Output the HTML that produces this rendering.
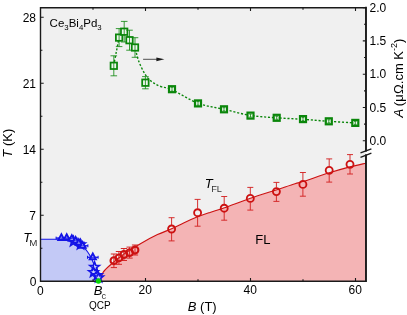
<!DOCTYPE html>
<html><head><meta charset="utf-8"><style>
html,body{margin:0;padding:0;background:#fff;}
svg{display:block}
text{font-family:"Liberation Sans",sans-serif;fill:#000}
</style></head><body>
<svg width="407" height="315" viewBox="0 0 407 315" style="opacity:0.999">
<rect width="407" height="315" fill="#ffffff"/>
<rect x="40.5" y="7.7" width="325.4" height="273.5" fill="#f0f0f0"/>
<path d="M100.00,281.20 C100.52,279.73 101.38,275.10 103.10,272.40 C104.82,269.70 106.65,268.18 110.30,265.00 C113.95,261.82 120.05,256.82 125.00,253.30 C129.95,249.78 134.58,247.02 140.00,243.90 C145.42,240.78 152.23,237.12 157.50,234.60 C162.77,232.08 167.25,230.75 171.60,228.80 C175.95,226.85 179.27,224.90 183.60,222.90 C187.93,220.90 193.20,218.55 197.60,216.80 C202.00,215.05 205.52,213.90 210.00,212.40 C214.48,210.90 217.77,210.15 224.50,207.80 C231.23,205.45 241.78,201.28 250.40,198.30 C259.02,195.32 268.77,192.33 276.20,189.90 C283.63,187.47 290.57,185.08 295.00,183.70 C299.43,182.32 297.08,183.42 302.80,181.60 C308.52,179.78 321.45,175.25 329.30,172.80 C337.15,170.35 343.80,168.50 349.90,166.90 C356.00,165.30 363.23,163.82 365.90,163.20 L365.9,281.2 L100,281.2 Z" fill="#f4b4b5"/>
<path d="M40.50,239.30 C43.42,239.30 54.08,239.28 58.00,239.30 C61.92,239.32 62.17,239.30 64.00,239.40 C65.83,239.50 67.33,239.60 69.00,239.90 C70.67,240.20 72.33,240.62 74.00,241.20 C75.67,241.78 77.42,242.47 79.00,243.40 C80.58,244.33 82.08,245.40 83.50,246.80 C84.92,248.20 86.25,250.02 87.50,251.80 C88.75,253.58 89.92,255.38 91.00,257.50 C92.08,259.62 93.08,262.17 94.00,264.50 C94.92,266.83 95.75,269.33 96.50,271.50 C97.25,273.67 97.92,275.88 98.50,277.50 C99.08,279.12 99.75,280.58 100.00,281.20 L40.5,281.2 Z" fill="#c3c9f6"/>
<path d="M40.50,239.30 C43.42,239.30 54.08,239.28 58.00,239.30 C61.92,239.32 62.17,239.30 64.00,239.40 C65.83,239.50 67.33,239.60 69.00,239.90 C70.67,240.20 72.33,240.62 74.00,241.20 C75.67,241.78 77.42,242.47 79.00,243.40 C80.58,244.33 82.08,245.40 83.50,246.80 C84.92,248.20 86.25,250.02 87.50,251.80 C88.75,253.58 89.92,255.38 91.00,257.50 C92.08,259.62 93.08,262.17 94.00,264.50 C94.92,266.83 95.75,269.33 96.50,271.50 C97.25,273.67 97.92,275.88 98.50,277.50 C99.08,279.12 99.75,280.58 100.00,281.20" fill="none" stroke="#1414e6" stroke-width="1.1"/>
<path d="M100.00,281.20 C100.52,279.73 101.38,275.10 103.10,272.40 C104.82,269.70 106.65,268.18 110.30,265.00 C113.95,261.82 120.05,256.82 125.00,253.30 C129.95,249.78 134.58,247.02 140.00,243.90 C145.42,240.78 152.23,237.12 157.50,234.60 C162.77,232.08 167.25,230.75 171.60,228.80 C175.95,226.85 179.27,224.90 183.60,222.90 C187.93,220.90 193.20,218.55 197.60,216.80 C202.00,215.05 205.52,213.90 210.00,212.40 C214.48,210.90 217.77,210.15 224.50,207.80 C231.23,205.45 241.78,201.28 250.40,198.30 C259.02,195.32 268.77,192.33 276.20,189.90 C283.63,187.47 290.57,185.08 295.00,183.70 C299.43,182.32 297.08,183.42 302.80,181.60 C308.52,179.78 321.45,175.25 329.30,172.80 C337.15,170.35 343.80,168.50 349.90,166.90 C356.00,165.30 363.23,163.82 365.90,163.20" fill="none" stroke="#cc1111" stroke-width="1.1"/>
<path d="M113.60,65.60 C114.07,63.25 115.47,56.15 116.40,51.50 C117.33,46.85 118.33,40.85 119.20,37.70 C120.07,34.55 120.75,33.68 121.60,32.60 C122.45,31.52 123.40,30.87 124.30,31.20 C125.20,31.53 126.12,33.03 127.00,34.60 C127.88,36.17 128.30,38.43 129.60,40.60 C130.90,42.77 133.50,44.85 134.80,47.60 C136.10,50.35 136.50,54.23 137.40,57.10 C138.30,59.97 139.10,62.25 140.20,64.80 C141.30,67.35 142.72,70.18 144.00,72.40 C145.28,74.62 146.30,76.35 147.90,78.10 C149.50,79.85 151.38,81.47 153.60,82.90 C155.82,84.33 158.17,85.58 161.20,86.70 C164.23,87.82 165.67,86.85 171.80,89.60 C177.93,92.35 189.30,99.92 198.00,103.20 C206.70,106.48 215.25,107.27 224.00,109.30 C232.75,111.33 241.72,113.98 250.50,115.40 C259.28,116.82 267.95,117.15 276.70,117.80 C285.45,118.45 294.32,118.72 303.00,119.30 C311.68,119.88 320.08,120.70 328.80,121.30 C337.52,121.90 350.88,122.63 355.30,122.90" fill="none" stroke="#0a860a" stroke-width="1.4" stroke-dasharray="2.1,1.8"/>
<rect x="110.58" y="62.57" width="6.45" height="6.45" fill="#eef6ee" stroke="#0a860a" stroke-width="1.75"/>
<path d="M113.80,55.80 V75.80 M110.50,55.80 h6.6 M110.50,75.80 h6.6" stroke="#0a860a" stroke-width="1" fill="none" opacity="0.8"/>
<rect x="115.88" y="34.38" width="6.45" height="6.45" fill="#eef6ee" stroke="#0a860a" stroke-width="1.75"/>
<path d="M119.10,28.60 V46.60 M115.80,28.60 h6.6 M115.80,46.60 h6.6" stroke="#0a860a" stroke-width="1" fill="none" opacity="0.8"/>
<rect x="120.98" y="28.48" width="6.45" height="6.45" fill="#eef6ee" stroke="#0a860a" stroke-width="1.75"/>
<path d="M124.20,21.40 V42.00 M120.90,21.40 h6.6 M120.90,42.00 h6.6" stroke="#0a860a" stroke-width="1" fill="none" opacity="0.8"/>
<rect x="126.28" y="36.98" width="6.45" height="6.45" fill="#eef6ee" stroke="#0a860a" stroke-width="1.75"/>
<path d="M129.50,30.20 V50.20 M126.20,30.20 h6.6 M126.20,50.20 h6.6" stroke="#0a860a" stroke-width="1" fill="none" opacity="0.8"/>
<rect x="131.78" y="44.27" width="6.45" height="6.45" fill="#eef6ee" stroke="#0a860a" stroke-width="1.75"/>
<path d="M135.00,37.70 V57.30 M131.70,37.70 h6.6 M131.70,57.30 h6.6" stroke="#0a860a" stroke-width="1" fill="none" opacity="0.8"/>
<rect x="142.18" y="79.48" width="6.45" height="6.45" fill="#eef6ee" stroke="#0a860a" stroke-width="1.75"/>
<path d="M145.40,76.60 V88.80 M142.10,76.60 h6.6 M142.10,88.80 h6.6" stroke="#0a860a" stroke-width="1" fill="none" opacity="0.8"/>
<rect x="169.00" y="86.20" width="6.00" height="6.00" fill="#eef6ee" stroke="#0a860a" stroke-width="2.2"/>
<path d="M172.00,87.20 V91.20 M170.70,87.20 h2.6 M170.70,91.20 h2.6" stroke="#0a860a" stroke-width="1" fill="none" opacity="0.8"/>
<rect x="195.00" y="100.40" width="6.00" height="6.00" fill="#eef6ee" stroke="#0a860a" stroke-width="2.2"/>
<path d="M198.00,101.60 V105.20 M196.70,101.60 h2.6 M196.70,105.20 h2.6" stroke="#0a860a" stroke-width="1" fill="none" opacity="0.8"/>
<rect x="221.00" y="106.30" width="6.00" height="6.00" fill="#eef6ee" stroke="#0a860a" stroke-width="2.2"/>
<path d="M224.00,107.70 V110.90 M222.70,107.70 h2.6 M222.70,110.90 h2.6" stroke="#0a860a" stroke-width="1" fill="none" opacity="0.8"/>
<rect x="247.50" y="112.60" width="6.00" height="6.00" fill="#eef6ee" stroke="#0a860a" stroke-width="2.2"/>
<path d="M250.50,114.10 V117.10 M249.20,114.10 h2.6 M249.20,117.10 h2.6" stroke="#0a860a" stroke-width="1" fill="none" opacity="0.8"/>
<rect x="273.70" y="114.80" width="6.00" height="6.00" fill="#eef6ee" stroke="#0a860a" stroke-width="2.2"/>
<path d="M276.70,116.30 V119.30 M275.40,116.30 h2.6 M275.40,119.30 h2.6" stroke="#0a860a" stroke-width="1" fill="none" opacity="0.8"/>
<rect x="300.00" y="116.10" width="6.00" height="6.00" fill="#eef6ee" stroke="#0a860a" stroke-width="2.2"/>
<path d="M303.00,117.60 V120.60 M301.70,117.60 h2.6 M301.70,120.60 h2.6" stroke="#0a860a" stroke-width="1" fill="none" opacity="0.8"/>
<rect x="325.80" y="118.30" width="6.00" height="6.00" fill="#eef6ee" stroke="#0a860a" stroke-width="2.2"/>
<path d="M328.80,119.80 V122.80 M327.50,119.80 h2.6 M327.50,122.80 h2.6" stroke="#0a860a" stroke-width="1" fill="none" opacity="0.8"/>
<rect x="352.30" y="119.90" width="6.00" height="6.00" fill="#eef6ee" stroke="#0a860a" stroke-width="2.2"/>
<path d="M355.30,121.40 V124.40 M354.00,121.40 h2.6 M354.00,124.40 h2.6" stroke="#0a860a" stroke-width="1" fill="none" opacity="0.8"/>
<path d="M143.1,59.3 H158" stroke="#1a1a1a" stroke-width="0.75"/><path d="M164.4,59.3 L156.4,57.4 L156.4,61.2 Z" fill="#1a1a1a"/>
<path d="M113.90,254.00 V267.60 M110.80,254.00 h6.2 M110.80,267.60 h6.2" stroke="#d42626" stroke-width="1.0" fill="none"/>
<path d="M118.90,251.50 V264.30 M115.80,251.50 h6.2 M115.80,264.30 h6.2" stroke="#d42626" stroke-width="1.0" fill="none"/>
<path d="M123.90,248.50 V260.50 M120.80,248.50 h6.2 M120.80,260.50 h6.2" stroke="#d42626" stroke-width="1.0" fill="none"/>
<path d="M129.60,247.10 V258.10 M126.50,247.10 h6.2 M126.50,258.10 h6.2" stroke="#d42626" stroke-width="1.0" fill="none"/>
<path d="M135.00,245.00 V255.00 M131.90,245.00 h6.2 M131.90,255.00 h6.2" stroke="#d42626" stroke-width="1.0" fill="none"/>
<path d="M171.60,217.70 V225.00 M171.60,233.00 V240.90 M168.60,217.70 h6.0 M168.60,240.90 h6.0" stroke="#d42626" stroke-width="0.95" fill="none"/>
<path d="M197.60,199.40 V208.70 M197.60,216.70 V226.20 M194.60,199.40 h6.0 M194.60,226.20 h6.0" stroke="#d42626" stroke-width="0.95" fill="none"/>
<path d="M224.20,196.50 V204.20 M224.20,212.20 V220.20 M221.20,196.50 h6.0 M221.20,220.20 h6.0" stroke="#d42626" stroke-width="0.95" fill="none"/>
<path d="M250.30,187.40 V194.40 M250.30,202.40 V210.10 M247.30,187.40 h6.0 M247.30,210.10 h6.0" stroke="#d42626" stroke-width="0.95" fill="none"/>
<path d="M276.40,182.40 V187.60 M276.40,195.60 V201.40 M273.40,182.40 h6.0 M273.40,201.40 h6.0" stroke="#d42626" stroke-width="0.95" fill="none"/>
<path d="M302.90,172.50 V180.40 M302.90,188.40 V196.20 M299.90,172.50 h6.0 M299.90,196.20 h6.0" stroke="#d42626" stroke-width="0.95" fill="none"/>
<path d="M329.20,158.90 V166.30 M329.20,174.30 V182.10 M326.20,158.90 h6.0 M326.20,182.10 h6.0" stroke="#d42626" stroke-width="0.95" fill="none"/>
<path d="M350.00,154.60 V160.30 M350.00,168.30 V174.00 M347.00,154.60 h6.0 M347.00,174.00 h6.0" stroke="#d42626" stroke-width="0.95" fill="none"/>
<circle cx="113.90" cy="260.70" r="3.40" fill="none" stroke="#cc1111" stroke-width="2.05"/>
<circle cx="118.90" cy="257.90" r="3.40" fill="none" stroke="#cc1111" stroke-width="2.05"/>
<circle cx="123.90" cy="254.50" r="3.40" fill="none" stroke="#cc1111" stroke-width="2.05"/>
<circle cx="129.60" cy="252.60" r="3.40" fill="none" stroke="#cc1111" stroke-width="2.05"/>
<circle cx="135.00" cy="250.00" r="3.40" fill="none" stroke="#cc1111" stroke-width="2.05"/>
<circle cx="171.60" cy="229.00" r="3.50" fill="none" stroke="#cc1111" stroke-width="1.85"/>
<circle cx="197.60" cy="212.70" r="3.50" fill="none" stroke="#cc1111" stroke-width="1.85"/>
<circle cx="224.20" cy="208.20" r="3.50" fill="none" stroke="#cc1111" stroke-width="1.85"/>
<circle cx="250.30" cy="198.40" r="3.50" fill="none" stroke="#cc1111" stroke-width="1.85"/>
<circle cx="276.40" cy="191.60" r="3.50" fill="none" stroke="#cc1111" stroke-width="1.85"/>
<circle cx="302.90" cy="184.40" r="3.50" fill="none" stroke="#cc1111" stroke-width="1.85"/>
<circle cx="329.20" cy="170.30" r="3.50" fill="none" stroke="#cc1111" stroke-width="1.85"/>
<circle cx="350.00" cy="164.30" r="3.50" fill="none" stroke="#cc1111" stroke-width="1.85"/>
<path d="M56.10,238.10 h10.6 M56.10,236.60 v3 M66.70,236.60 v3" stroke="#1414e6" stroke-width="1"/>
<path d="M61.40,238.10 h10.6 M61.40,236.60 v3 M72.00,236.60 v3" stroke="#1414e6" stroke-width="1"/>
<path d="M66.50,238.90 h10.6 M66.50,237.40 v3 M77.10,237.40 v3" stroke="#1414e6" stroke-width="1"/>
<path d="M70.30,240.80 h10.6 M70.30,239.30 v3 M80.90,239.30 v3" stroke="#1414e6" stroke-width="1"/>
<path d="M73.50,243.00 h10.6 M73.50,241.50 v3 M84.10,241.50 v3" stroke="#1414e6" stroke-width="1"/>
<path d="M77.30,245.80 h10.6 M77.30,244.30 v3 M87.90,244.30 v3" stroke="#1414e6" stroke-width="1"/>
<path d="M87.50,257.30 h10.6 M87.50,255.80 v3 M98.10,255.80 v3" stroke="#1414e6" stroke-width="1"/>
<polygon points="73.50,236.50 74.73,239.80 78.26,239.95 75.50,242.15 76.44,245.55 73.50,243.60 70.56,245.55 71.50,242.15 68.74,239.95 72.27,239.80" fill="#c9cefa" stroke="#1414e6" stroke-width="1.65"/>
<polygon points="80.50,239.50 81.73,242.80 85.26,242.95 82.50,245.15 83.44,248.55 80.50,246.60 77.56,248.55 78.50,245.15 75.74,242.95 79.27,242.80" fill="#c9cefa" stroke="#1414e6" stroke-width="1.65"/>
<polygon points="94.60,262.00 95.83,265.30 99.36,265.45 96.60,267.65 97.54,271.05 94.60,269.10 91.66,271.05 92.60,267.65 89.84,265.45 93.37,265.30" fill="#c9cefa" stroke="#1414e6" stroke-width="1.65"/>
<polygon points="93.50,267.20 94.73,270.50 98.26,270.65 95.50,272.85 96.44,276.25 93.50,274.30 90.56,276.25 91.50,272.85 88.74,270.65 92.27,270.50" fill="#c9cefa" stroke="#1414e6" stroke-width="1.65"/>
<polygon points="97.30,270.30 98.53,273.60 102.06,273.75 99.30,275.95 100.24,279.35 97.30,277.40 94.36,279.35 95.30,275.95 92.54,273.75 96.07,273.60" fill="#c9cefa" stroke="#1414e6" stroke-width="1.65"/>
<polygon points="98.60,272.60 99.83,275.90 103.36,276.05 100.60,278.25 101.54,281.65 98.60,279.70 95.66,281.65 96.60,278.25 93.84,276.05 97.37,275.90" fill="#c9cefa" stroke="#1414e6" stroke-width="1.65"/>
<path d="M61.40,234.30 L64.50,240.00 L58.30,240.00 Z" fill="#d4d8fa" stroke="#1414e6" stroke-width="1.85" stroke-linejoin="miter"/>
<path d="M66.70,234.30 L69.80,240.00 L63.60,240.00 Z" fill="#d4d8fa" stroke="#1414e6" stroke-width="1.85" stroke-linejoin="miter"/>
<path d="M71.80,235.10 L74.90,240.80 L68.70,240.80 Z" fill="#d4d8fa" stroke="#1414e6" stroke-width="1.85" stroke-linejoin="miter"/>
<path d="M75.60,237.00 L78.70,242.70 L72.50,242.70 Z" fill="#d4d8fa" stroke="#1414e6" stroke-width="1.85" stroke-linejoin="miter"/>
<path d="M78.80,239.20 L81.90,244.90 L75.70,244.90 Z" fill="#d4d8fa" stroke="#1414e6" stroke-width="1.85" stroke-linejoin="miter"/>
<path d="M82.60,242.00 L85.70,247.70 L79.50,247.70 Z" fill="#d4d8fa" stroke="#1414e6" stroke-width="1.85" stroke-linejoin="miter"/>
<path d="M92.80,253.50 L95.90,259.20 L89.70,259.20 Z" fill="#d4d8fa" stroke="#1414e6" stroke-width="1.85" stroke-linejoin="miter"/>
<path d="M56.10,238.10 h10.6" stroke="#1414e6" stroke-width="0.9"/>
<path d="M61.40,238.10 h10.6" stroke="#1414e6" stroke-width="0.9"/>
<path d="M66.50,238.90 h10.6" stroke="#1414e6" stroke-width="0.9"/>
<path d="M70.30,240.80 h10.6" stroke="#1414e6" stroke-width="0.9"/>
<path d="M73.50,243.00 h10.6" stroke="#1414e6" stroke-width="0.9"/>
<path d="M77.30,245.80 h10.6" stroke="#1414e6" stroke-width="0.9"/>
<path d="M87.50,257.30 h10.6" stroke="#1414e6" stroke-width="0.9"/>
<path d="M40.5,281.2 V7.7 H365.9 V150.6 M365.9,155.3 V281.2 H40.5" fill="none" stroke="#1a1a1a" stroke-width="1.4" stroke-linecap="square"/>
<path d="M366.0,7.7 V150.6 M366.0,155.3 V281.2" fill="none" stroke="#1a1a1a" stroke-width="1.7" stroke-linecap="square"/>
<path d="M360.5,152.9 L371.4,148.8 M360.5,157.3 L371.4,153.1" stroke="#1a1a1a" stroke-width="1.3"/>
<path d="M40.5,248.21 h1.9 M40.5,215.22 h3.2 M40.5,182.24 h1.9 M40.5,149.25 h3.2 M40.5,116.26 h1.9 M40.5,83.27 h3.2 M40.5,50.29 h1.9 M40.5,17.30 h3.2 M93.00,281.2 v-2.0 M93.00,7.7 v2.1 M145.50,281.2 v-3.2 M145.50,7.7 v3.2 M198.00,281.2 v-2.0 M198.00,7.7 v2.1 M250.50,281.2 v-3.2 M250.50,7.7 v3.2 M303.00,281.2 v-2.0 M303.00,7.7 v2.1 M355.50,281.2 v-3.2 M355.50,7.7 v3.2 M365.9,140.80 h-3.1 M365.9,124.15 h-1.9 M365.9,107.50 h-3.1 M365.9,90.85 h-1.9 M365.9,74.20 h-3.1 M365.9,57.55 h-1.9 M365.9,40.90 h-3.1 M365.9,24.25 h-1.9 M365.9,7.60 h-3.1" stroke="#1a1a1a" stroke-width="1.1" fill="none"/>
<circle cx="98.45" cy="280.9" r="2.75" fill="#06d406"/>
<g style="filter:grayscale(1)">
<text x="36.0" y="21.6" font-size="12" text-anchor="end" >28</text>
<text x="36.0" y="87.57" font-size="12" text-anchor="end" >21</text>
<text x="36.0" y="153.55" font-size="12" text-anchor="end" >14</text>
<text x="36.0" y="219.52" font-size="12" text-anchor="end" >7</text>
<text x="36.5" y="286.1" font-size="12" text-anchor="end" >0</text>
<text x="40.3" y="295.1" font-size="12" text-anchor="middle" >0</text>
<text x="145.3" y="294.3" font-size="12" text-anchor="middle" >20</text>
<text x="250.3" y="294.3" font-size="12" text-anchor="middle" >40</text>
<text x="355.3" y="294.3" font-size="12" text-anchor="middle" >60</text>
<text x="369.6" y="11.8" font-size="12" text-anchor="start" >2.0</text>
<text x="369.6" y="45.1" font-size="12" text-anchor="start" >1.5</text>
<text x="369.6" y="78.4" font-size="12" text-anchor="start" >1.0</text>
<text x="369.6" y="111.7" font-size="12" text-anchor="start" >0.5</text>
<text x="369.6" y="145.0" font-size="12" text-anchor="start" >0.0</text>
<text x="49.6" y="26.5" font-size="11.5">Ce<tspan font-size="7.8" dy="3">3</tspan><tspan dy="-3">Bi</tspan><tspan font-size="7.8" dy="3">4</tspan><tspan dy="-3">Pd</tspan><tspan font-size="7.8" dy="3">3</tspan></text>
<text x="23.2" y="242.2" font-size="13"><tspan font-style="italic">T</tspan><tspan font-size="9.8" dy="3.6" dx="-1.9" fill="#333">M</tspan></text>
<text x="204.8" y="188.2" font-size="13"><tspan font-style="italic">T</tspan><tspan font-size="9.2" dy="3.5" dx="-1.5" fill="#333">FL</tspan></text>
<text x="93.8" y="294.8" font-size="13"><tspan font-style="italic">B</tspan><tspan font-size="9.2" dy="3.8" dx="-0.9" fill="#333">c</tspan></text>
<text x="99.8" y="308.5" font-size="10" text-anchor="middle" >QCP</text>
<text x="255.2" y="244" font-size="13" text-anchor="start" >FL</text>
<text x="187.8" y="310.7" font-size="13"><tspan font-style="italic">B</tspan> (T)</text>
<text transform="translate(12.1,143.2) rotate(-90)" font-size="13" text-anchor="middle"><tspan font-style="italic">T</tspan> (K)</text>
<text transform="translate(403.3,117.6) rotate(-90)" font-size="13"><tspan font-style="italic">A</tspan><tspan dx="-0.8"> (μ</tspan><tspan dx="0.4">Ω.cm K</tspan><tspan font-size="9" dy="-6.1">-2</tspan><tspan dy="6.1">)</tspan></text>
</g>
</svg>
</body></html>
